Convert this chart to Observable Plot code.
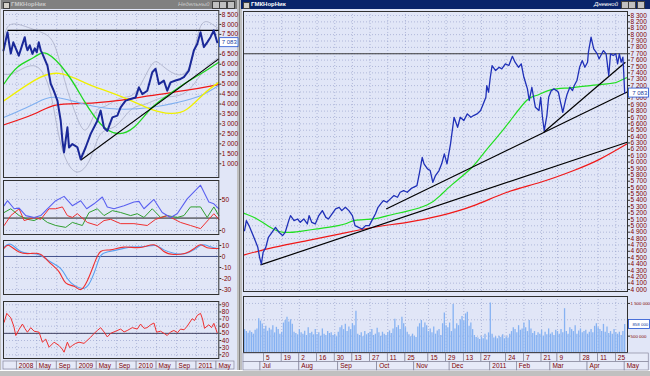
<!DOCTYPE html>
<html><head><meta charset="utf-8">
<script src="https://cdn.jsdelivr.net/npm/d3@7"></script>
<script src="https://cdn.jsdelivr.net/npm/@observablehq/plot@0.6"></script>
<style>
body{margin:0;background:#c0c0c0;}
#root{position:relative;width:650px;height:376px;overflow:hidden;background:#c0c0c0;font-family:"Liberation Sans",Arial,sans-serif;}
</style></head><body><div id="root"></div>
<script>
// ===== LEFT WINDOW (weekly) : t = months since Jan 2008 =====
const wkClose = [[-2.66,6690],[-1.86,7610],[-1.5,7000],[-1.2,6540],[-0.7,7100],[-0.2,6800],[0.4,6430],[1.0,6900],[1.6,7360],[1.9,6900],[2.14,6700],[2.6,6950],[3.14,6520],[3.6,6800],[4.0,6600],[4.4,7100],[4.8,6700],[5.14,6520],[6.14,5930],[6.8,5020],[7.4,4670],[8.14,4170],[8.8,3160],[9.14,2160],[9.46,1570],[10.14,2830],[10.46,1820],[11.14,1990],[12.14,1830],[12.8,1230],[13.8,1830],[14.8,2500],[16.14,3160],[16.8,3670],[17.46,2810],[18.14,2650],[19.14,3330],[20.14,3420],[20.8,3830],[21.8,4170],[22.8,4250],[23.8,4330],[24.46,4840],[25.14,4500],[26.14,4670],[27.14,5600],[27.8,5770],[28.46,5000],[29.46,5180],[30.14,4670],[30.8,5090],[31.8,5180],[32.8,5260],[33.46,5350],[34.46,5680],[35.46,6690],[36.14,7020],[36.8,7610],[37.46,6860],[38.14,7100],[38.8,7360],[39.46,7700],[40.14,7100]];
const wkGreen = [[-2.54,5020],[0.14,5850],[3.46,6350],[6.14,6520],[10.14,5510],[13.46,4170],[16.8,3000],[20.14,2520],[23.46,2830],[26.8,3750],[30.14,4420],[33.46,5010],[36.8,5510],[40.46,6100]];
const wkYellow = [[-2.54,4170],[3.46,5180],[8.46,5540],[13.46,5090],[16.8,4760],[22.14,4250],[26.8,3750],[30.8,3530],[34.14,3750],[37.46,4510],[40.46,5090]];
const wkBlue = [[-2.54,3330],[3.46,4000],[7.46,4340],[13.46,4000],[20.14,3750],[26.8,3830],[32.14,4080],[36.8,4420],[40.46,4930]];
const wkRed = [[-2.54,2960],[3.46,3500],[7.8,3950],[13.46,4030],[20.14,4170],[26.8,4420],[33.46,4670],[40.46,4980]];
const wkUpper = [[-2.6,7200],[-1.2,8000],[2.8,7800],[5.8,7500],[7.8,6800],[9.8,5000],[11.8,3500],[13.8,2700],[15.8,3600],[17.8,3900],[20.8,4300],[23.8,4600],[26.8,5900],[28.8,6000],[31.8,5500],[34.8,6000],[36.8,7900],[39.2,8000],[40.4,7800]];
const wkLower = [[-2.6,5500],[-0.2,5600],[3.8,5900],[6.8,4500],[8.8,2000],[11.8,600],[14.8,1300],[16.8,2500],[19.8,2900],[22.8,3700],[25.8,4000],[28.8,4300],[31.8,4400],[34.8,4800],[37.8,5800],[40.4,6300]];
const wkLines = [{t1:12.8,v1:1180,t2:40.46,v2:6270},{t1:-1.86,v1:7700,t2:40.46,v2:7700}];
// DI / ADX
const diBlue = [[-2.53,40],[-1.87,48],[-0.53,35],[0.47,36],[1.8,24],[3.47,21],[4.8,24],[6.13,35],[7.8,48],[9.47,55],[11.13,40],[12.8,48],[14,35],[15.47,43],[17.13,54],[18.13,38],[19.47,35],[21.47,40],[23.47,46],[24.47,47],[25.47,35],[27.47,50],[29.13,29],[30.8,21],[32.13,27],[34.13,51],[36.8,73],[38.47,46],[39.47,43],[40.47,35]];
const diRed = [[-2.53,8],[-1.2,24],[0.47,35],[1.47,16],[3.47,21],[4.8,18],[6.47,35],[7.8,35],[9.13,38],[10.13,24],[11.13,21],[12.13,27],[14.13,13],[16.13,8],[17.47,16],[18.8,18],[20.8,11],[23.47,11],[26.13,8],[27.8,18],[30.13,24],[32.8,13],[34.8,8],[36.8,3],[38.47,18],[39.47,27],[40.47,18]];
const diGreen = [[-2.53,29],[-1.2,35],[0.47,24],[2.13,18],[3.47,16],[4.8,21],[6.13,13],[7.8,8],[9.8,5],[11.13,13],[13.13,8],[14.47,29],[16.13,35],[17.47,24],[19.13,32],[20.8,29],[22.8,24],[24.13,27],[25.47,21],[27.13,35],[28.8,21],[30.13,24],[32.13,21],[33.47,24],[34.8,38],[36.8,38],[38.13,21],[39.47,38],[40.47,24]];
// MACD
const macdBlue = [[-2.53,8.5],[-1.2,11],[0.8,4.5],[2.8,2.7],[4.8,0.9],[6.8,-5],[8.8,-11],[10.13,-20],[11.47,-26],[13.13,-29],[14.47,-25],[15.8,-11],[16.8,0.6],[18.13,4],[20.13,6],[22.8,8.5],[25.47,9],[27.8,10],[29.47,6],[31.47,3],[33.47,2.4],[35.47,6],[37.13,10.6],[38.8,8.8],[40.47,7]];
const macdRed = [[-2.53,7.5],[-1.53,10],[0.47,4],[2.8,2.7],[4.8,1.8],[6.8,-6.5],[8.47,-14],[9.8,-24],[11.47,-27],[12.8,-30],[14.13,-22],[15.47,-7],[16.8,4.5],[18.8,6],[21.47,8.5],[24.8,8.2],[27.47,10.6],[29.47,4.5],[31.47,1.8],[33.8,3],[35.47,7],[36.8,10.6],[38.13,8],[40.47,7.3]];
// RSI
const rsi = [[-2.53,65.6],[-2,78],[-1.2,71.7],[-0.6,60],[-0.2,47],[0.5,56],[1.13,63],[1.6,57],[2.13,51.6],[2.8,58],[3.47,53],[4.47,51.6],[5.13,37.6],[5.8,42],[6.47,30.6],[7.47,37.6],[8.47,33],[9.1,28],[9.47,23.6],[10.13,37.6],[10.6,30],[11.13,33],[11.8,36],[12.47,37.6],[13.47,36],[14.8,44.6],[15.5,50],[16.13,54],[16.8,58],[17.47,52],[18.13,45],[18.8,50],[19.47,52],[20.8,56],[21.5,52],[22.13,54],[23.13,58],[24.13,56],[24.8,63],[25.5,57],[26.13,58],[26.8,62],[27.47,64.5],[28,51.6],[28.8,53],[29.5,50],[30.13,47],[30.8,52],[31.47,54],[32.2,51],[32.8,56],[33.5,55],[34.13,60],[35.13,70.5],[35.6,68],[36.13,75],[36.8,78],[37.2,70],[37.6,57],[38.1,60],[38.47,62],[39,58],[39.47,64],[40.13,51]];
const wkMonthTicks = [[0,"2008"],[4,"May"],[8,"Sep"],[12,"2009"],[16,"May"],[20,"Sep"],[24,"2010"],[28,"May"],[32,"Sep"],[36,"2011"],[40,"May"]];

// ===== RIGHT WINDOW (daily) : s = trading session index, 0 = 2010-07-01 =====
const dayClose = [[-9,4925],[-8,5081],[-6.5,5003],[-4.5,4873],[-3,4768],[-1.5,4662],[-0.5,4505],[0.5,4400],[1.5,4584],[3,4662],[4.5,4820],[6.5,4898],[8.5,4976],[10.5,4898],[12.5,4846],[14,4898],[16,5081],[17,5160],[19,5081],[21,5107],[22.5,5055],[24.5,5107],[26.5,5029],[27.5,5160],[29,5055],[31,5029],[33,5160],[35,5238],[37,5133],[38.5,5107],[40.5,5186],[42.5,5265],[44.5,5290],[46,5238],[48,5290],[50,5238],[52,5160],[53.5,5003],[55.5,4976],[57.5,4950],[59.5,5003],[61.5,5003],[63,5081],[65,5186],[66.5,5290],[68,5344],[69.5,5396],[71.5,5370],[73.5,5423],[75.5,5474],[77.5,5448],[79,5526],[81,5552],[83,5526],[85,5579],[86.5,5604],[88.5,5631],[90,5840],[91.5,6075],[92.5,5972],[94.5,5893],[96,5867],[97.5,5683],[99,5788],[101,5867],[102.5,5972],[104,6129],[105.5,5972],[107.5,6286],[109.5,6703],[111.5,6546],[113,6703],[115,6651],[117,6756],[119,6703],[120.5,6730],[122.5,6756],[124.5,6808],[126,6913],[127.5,7017],[128,7201],[129,7096],[130,7331],[131,7515],[133,7437],[135,7488],[136.5,7463],[138.5,7542],[140.5,7515],[142.5,7660],[144,7567],[146,7488],[147.5,7542],[149,7331],[151,7149],[152,6966],[153.5,7174],[155.5,6860],[157.5,6808],[158.5,7017],[159.5,6703],[160.5,6495],[162,6730],[163,7017],[164.5,7122],[166,7149],[167.5,7122],[168.5,7096],[169.5,6966],[171,6782],[172.5,6966],[173.5,7070],[175,7174],[176.5,7122],[177.5,7201],[179,7280],[180.5,7488],[182,7593],[183.5,7488],[185,7567],[185.5,7724],[187,7960],[188.5,7777],[190.5,7698],[191.5,7620],[192.5,7672],[194,7750],[195.5,7698],[197,7358],[198,7698],[199.5,7672],[201,7698],[202,7542],[203,7698],[204,7567],[205,7646],[205.5,7385],[206,7083]];
const dayMA50 = [[-9.6,5200],[-8.5,5187],[-2,5108],[5.5,4977],[13,4898],[22.5,4914],[32,4951],[41.5,4990],[49,5040],[53.5,5085],[64,5108],[72,5160],[83,5230],[94.5,5330],[101.5,5470],[108.5,5650],[119,5900],[126,6130],[133.5,6380],[141,6640],[150.5,6966],[156,7044],[164,7133],[175,7165],[186.5,7201],[196,7228],[201.5,7253],[207,7322]];
const dayMA200 = [[-9.6,4540],[7.5,4662],[26.4,4768],[45.2,4873],[64.1,4977],[83,5055],[101.8,5160],[120.6,5317],[139.5,5526],[158.4,5683],[177.2,5867],[192.3,6050],[207.4,6286]];
const dayLines = [{s1:0,v1:4386,s2:207.4,v2:6311},{s1:71.1,v1:5265,s2:207.4,v2:7100},{s1:160.2,v1:6468,s2:206.4,v2:7567},{s1:-9.6,v1:7700,s2:207.6,v2:7700}];
// volume, thousands, one per session from s = -9
const volume = [700,640,590,660,610,560,680,720,1030,960,
870,720,800,650,740,690,820,600,770,700,
560,620,900,980,1080,930,1000,860,620,580,
540,700,600,560,650,520,760,580,620,540,
700,550,600,500,720,560,520,640,580,600,
520,560,480,620,760,820,700,860,640,780,
700,880,820,1260,560,520,600,480,640,540,
580,620,700,520,560,740,600,500,620,560,
520,600,660,580,720,1020,760,820,700,1080,
880,760,620,540,480,560,500,460,780,880,
980,760,900,820,640,720,600,780,560,660,
700,520,880,1210,820,760,900,640,1470,720,
880,820,1000,1100,960,1180,1230,800,900,700,
520,460,440,400,480,420,560,380,600,1510,
560,440,480,420,500,460,540,420,480,440,
560,640,760,700,600,820,680,720,900,760,
640,980,720,580,640,520,600,560,680,500,
620,540,720,560,600,520,680,640,560,700,
600,1340,640,560,760,700,640,820,560,660,
720,600,640,680,560,620,700,600,800,880,
760,700,640,860,620,780,580,640,560,700,
600,560,620,520,640,858];
const holidays = ["2010-11-04","2010-11-05","2011-01-03","2011-01-04","2011-01-05","2011-01-06","2011-01-07","2011-01-10","2011-02-23","2011-03-07","2011-03-08","2011-05-02"];
const dayTickDates = ["2010-07-05","2010-07-19","2010-08-02","2010-08-16","2010-08-30","2010-09-13","2010-09-27","2010-10-11","2010-10-25","2010-11-15","2010-11-29","2010-12-13","2010-12-27","2011-01-24","2011-02-07","2011-02-21","2011-03-09","2011-03-28","2011-04-11","2011-04-25"];
const monthTickDates = ["2010-07-01","2010-08-01","2010-09-01","2010-10-01","2010-11-01","2010-12-01","2011-01-01","2011-02-01","2011-03-01","2011-04-01","2011-05-01"];
const lastPrice = 7083;

// ===== helpers =====
const root = document.getElementById("root");
const iso = d3.utcFormat("%Y-%m-%d");
const hol = new Set(holidays);
const trading = d3.utcDays(new Date("2010-06-01"), new Date("2011-05-12")).filter(d => d.getUTCDay() % 6 !== 0 && !hol.has(iso(d)));
const base = trading.findIndex(d => iso(d) === "2010-07-01");
const sessionOf = str => trading.findIndex(d => iso(d) >= str) - base;
const dayTicks = dayTickDates.map(d => ({s: sessionOf(d), label: String(+d.slice(8))}));
const monthTicks = monthTickDates.map(d => {
  const m = +d.slice(5,7);
  return {s: sessionOf(d), label: m === 1 ? d.slice(0,4) : d3.utcFormat("%b")(new Date(d))};
});
const fmtSp = v => d3.format(",")(v).replace(/,/g, " ");
const INK = "#800000", GRID = "#8e98c6", FONT = "'Liberation Sans', Arial, sans-serif";

function div(css, text) {
  const d = document.createElement("div");
  d.style.cssText = "position:absolute;" + css;
  if (text) d.textContent = text;
  root.appendChild(d); return d;
}
function mk({left, top, width, height, mr, x, y, yAxis = true, marks}) {
  const p = Plot.plot({
    width, height, marginTop: 0, marginBottom: 0, marginLeft: 0, marginRight: mr,
    x: {domain: x, axis: null}, y: yAxis ? {domain: y} : {domain: y, axis: null},
    style: {background: "none", overflow: "visible", fontFamily: FONT, fontSize: "6.5px"},
    marks
  });
  Object.assign(p.style, {position: "absolute", left: left + "px", top: top + "px"});
  root.appendChild(p); return p;
}
function yAx(ticks, fmt, fs = 6.5) {
  return Plot.axisY({ticks, anchor: "right", tickFormat: fmt, tickSize: 2, tickPadding: 1,
    fontSize: fs, fill: INK, stroke: "#303030", label: null});
}
function tag(chart, yVal, text, xPix, w, fs = 6.5) {
  const y = chart.scale("y").apply(yVal);
  const g = d3.select(chart).append("g");
  g.append("rect").attr("x", xPix).attr("y", y - 4.5).attr("width", w).attr("height", 9)
    .attr("fill", "#ffffff").attr("stroke", "#2050d0").attr("stroke-width", 0.8);
  g.append("text").attr("x", xPix + w - 1.2).attr("y", y + 2.3).attr("font-size", fs)
    .attr("text-anchor", "end").attr("fill", "#2040a0").attr("font-family", FONT).text(text);
}
const P = () => ({x: d => d[0], y: d => d[1]});

// ===== window chrome =====
div("left:0;top:0;width:239px;height:376px;background:#c0c0c0;border-right:1px solid #808080;");
div("left:1px;top:9px;width:236px;height:361px;background:#e1e6f7;");
div("left:1px;top:0;width:236px;height:9px;background:#808080;");
div("left:3px;top:1.5px;width:5px;height:5px;background:#d4d0c8;border:0.5px solid #404040;");
div("left:11px;top:0;height:9px;line-height:9px;font-size:6px;color:#c8c8c8;font-weight:bold;", "ГМКНорНик");
div("left:178px;top:0;height:9px;line-height:9px;font-size:6px;color:#c8c8c8;font-style:italic;", "Недельный");
for (const x of [212, 219, 227]) div(`left:${x}px;top:1px;width:6px;height:6px;background:#c0c0c0;border:0.5px solid #404040;`);
div("left:242px;top:9px;width:408px;height:361px;background:#e1e6f7;");
div("left:241px;top:0;width:409px;height:9px;background:#0a246a;");
div("left:243px;top:1.5px;width:5px;height:5px;background:#d4d0c8;border:0.5px solid #404040;");
div("left:251px;top:0;height:9px;line-height:9px;font-size:6px;color:#ffffff;font-weight:bold;", "ГМКНорНик");
div("left:594px;top:0;height:9px;line-height:9px;font-size:6px;color:#ffffff;font-style:italic;", "Дневной");
for (const x of [621, 628, 637]) div(`left:${x}px;top:1px;width:6px;height:6px;background:#c0c0c0;border:0.5px solid #404040;`);
div("left:0;top:370px;width:650px;height:6px;background:#c0c0c0;border-top:1px solid #ffffff;");

// ===== LEFT panels =====
const LX = [-2.66, 40.46];
const lGridX = Plot.ruleX(wkMonthTicks.map(d => d[0]), {stroke: GRID, strokeWidth: 0.6, strokeDasharray: "1,2"});
const p1ticks = d3.range(1000, 8501, 500);
const lp1 = mk({left: 3, top: 10, width: 235, height: 167, mr: 19.7, x: LX, y: [310, 8700], marks: [
  Plot.ruleY(p1ticks, {stroke: GRID, strokeWidth: 0.6, strokeDasharray: "1,2"}), lGridX,
  Plot.line(wkUpper, {...P(), stroke: "#a4a8c0", strokeWidth: 0.7, curve: "natural", clip: true}),
  Plot.line(wkLower, {...P(), stroke: "#a4a8c0", strokeWidth: 0.7, curve: "natural", clip: true}),
  Plot.line(wkRed, {...P(), stroke: "#f01818", strokeWidth: 1.3, curve: "natural"}),
  Plot.line(wkBlue, {...P(), stroke: "#80b0f0", strokeWidth: 1.1, curve: "natural"}),
  Plot.line(wkYellow, {...P(), stroke: "#f0f000", strokeWidth: 1.3, curve: "natural"}),
  Plot.line(wkGreen, {...P(), stroke: "#20d820", strokeWidth: 1.3, curve: "natural"}),
  Plot.link(wkLines, {x1: "t1", y1: "v1", x2: "t2", y2: "v2", stroke: "#000", strokeWidth: 1.1}),
  Plot.line(wkClose, {...P(), stroke: "#1a2898", strokeWidth: 2}),
  Plot.frame({stroke: "#303030"}),
  yAx(p1ticks.filter(v => Math.abs(v - lastPrice) > 250), fmtSp)
]});
tag(lp1, lastPrice, fmtSp(lastPrice), 216.5, 18.5, 6);

mk({left: 3, top: 180, width: 235, height: 54, mr: 19.7, x: LX, y: [-6.5, 80.6], marks: [
  Plot.ruleY([0, 50], {stroke: GRID, strokeWidth: 0.6, strokeDasharray: "1,2"}), lGridX,
  Plot.ruleY([20], {stroke: "#202020", strokeWidth: 1}),
  Plot.line(diGreen, {...P(), stroke: "#30a030", strokeWidth: 1}),
  Plot.line(diRed, {...P(), stroke: "#f03030", strokeWidth: 1}),
  Plot.line(diBlue, {...P(), stroke: "#5a60f0", strokeWidth: 1.1}),
  Plot.frame({stroke: "#303030"}),
  yAx([0, 50], String)
]});
mk({left: 3, top: 240, width: 235, height: 54, mr: 19.7, x: LX, y: [-34.5, 14.5], marks: [
  Plot.ruleY([-30, -20, -10, 10], {stroke: GRID, strokeWidth: 0.6, strokeDasharray: "1,2"}), lGridX,
  Plot.ruleY([0], {stroke: "#304080", strokeWidth: 0.9}),
  Plot.line(macdBlue, {...P(), stroke: "#5aa0f0", strokeWidth: 1.1, curve: "natural"}),
  Plot.line(macdRed, {...P(), stroke: "#f03030", strokeWidth: 1.1, curve: "natural"}),
  Plot.frame({stroke: "#303030"}),
  yAx([-30, -20, -10, 0, 10], String)
]});
mk({left: 3, top: 301, width: 235, height: 57, mr: 19.7, x: LX, y: [14.8, 94.6], marks: [
  Plot.ruleY(d3.range(20, 91, 10), {stroke: GRID, strokeWidth: 0.6, strokeDasharray: "1,2"}), lGridX,
  Plot.ruleY([50], {stroke: "#303050", strokeWidth: 0.9}),
  Plot.line(rsi, {...P(), stroke: "#f03030", strokeWidth: 1}),
  Plot.frame({stroke: "#303030"}),
  yAx(d3.range(20, 91, 10), String)
]});
// left date row
{
  const cells = [[LX[0], 0, ""], ...wkMonthTicks.map((d, i) => [d[0], i + 1 < wkMonthTicks.length ? wkMonthTicks[i + 1][0] : 43.6, d[1]])];
  mk({left: 3, top: 361, width: 235, height: 8, mr: 19.7, x: LX, y: [0, 1], yAxis: false, marks: [
    Plot.rect(cells, {x1: d => d[0], x2: d => d[1], y1: 0, y2: 1, fill: "#e6eaf8", stroke: "#7a7a90", strokeWidth: 0.6}),
    Plot.text(cells, {x: d => d[0], y: 0.5, text: d => d[2], dx: 2, textAnchor: "start", fill: INK, fontSize: 6.5})
  ]});
}

// ===== RIGHT panels =====
const RX = [-9.6, 207.6];
const rGridX = Plot.ruleX(dayTicks.map(d => d.s), {stroke: GRID, strokeWidth: 0.6, strokeDasharray: "1,2"});
const mainTicks = d3.range(4000, 8301, 100);
const mp = mk({left: 243, top: 11, width: 407, height: 280, mr: 23, x: RX, y: [3969, 8363], marks: [
  Plot.ruleY(mainTicks, {stroke: GRID, strokeWidth: 0.6, strokeDasharray: "1,2"}), rGridX,
  Plot.line(dayMA200, {...P(), stroke: "#f01818", strokeWidth: 1.2, curve: "natural"}),
  Plot.line(dayMA50, {...P(), stroke: "#20e020", strokeWidth: 1.2, curve: "natural"}),
  Plot.link(dayLines, {x1: "s1", y1: "v1", x2: "s2", y2: "v2", stroke: d => d.v1 === d.v2 ? "#383838" : "#000", strokeWidth: 1.2}),
  Plot.line(dayClose, {...P(), stroke: "#1f30b8", strokeWidth: 1.3}),
  Plot.frame({stroke: "#303030"}),
  yAx(mainTicks.filter(v => Math.abs(v - lastPrice) > 60), fmtSp)
]});
tag(mp, lastPrice, fmtSp(lastPrice), 385.5, 20, 6);

const volData = volume.map((v, i) => ({s: i - 9, v}));
const lastVol = volume[volume.length - 1];
const vp = mk({left: 243, top: 296, width: 407, height: 56, mr: 23, x: RX, y: [0, 1712], marks: [
  Plot.ruleY([500, 1000, 1500], {stroke: GRID, strokeWidth: 0.6, strokeDasharray: "1,2"}), rGridX,
  Plot.ruleX(volData, {x: "s", y1: 0, y2: "v", stroke: "#86b2f2", strokeWidth: 1.3}),
  Plot.frame({stroke: "#303030"}),
  yAx([500, 1500], v => fmtSp(v * 1000), 4.4)
]});
tag(vp, lastVol, fmtSp(lastVol * 1000), 385.5, 21, 4.4);

// right date rows
{
  const row1 = [[RX[0], dayTicks[0].s, ""], ...dayTicks.map((d, i) => [d.s, i + 1 < dayTicks.length ? dayTicks[i + 1].s : 219.6, d.label])];
  const row2 = [[RX[0], monthTicks[0].s, ""], ...monthTicks.map((d, i) => [d.s, i + 1 < monthTicks.length ? monthTicks[i + 1].s : 219.6, d.label])];
  mk({left: 243, top: 353, width: 407, height: 17, mr: 23, x: RX, y: [0, 2], yAxis: false, marks: [
    Plot.rect(row1, {x1: d => d[0], x2: d => d[1], y1: 1, y2: 2, fill: "#e6eaf8", stroke: "#7a7a90", strokeWidth: 0.6}),
    Plot.rect(row2, {x1: d => d[0], x2: d => d[1], y1: 0, y2: 1, fill: "#e6eaf8", stroke: "#7a7a90", strokeWidth: 0.6}),
    Plot.text(row1, {x: d => d[0], y: 1.5, text: d => d[2], dx: 2, textAnchor: "start", fill: INK, fontSize: 6.5}),
    Plot.text(row2, {x: d => d[0], y: 0.5, text: d => d[2], dx: 2, textAnchor: "start", fill: INK, fontSize: 6.5})
  ]});
}
</script></body></html>
